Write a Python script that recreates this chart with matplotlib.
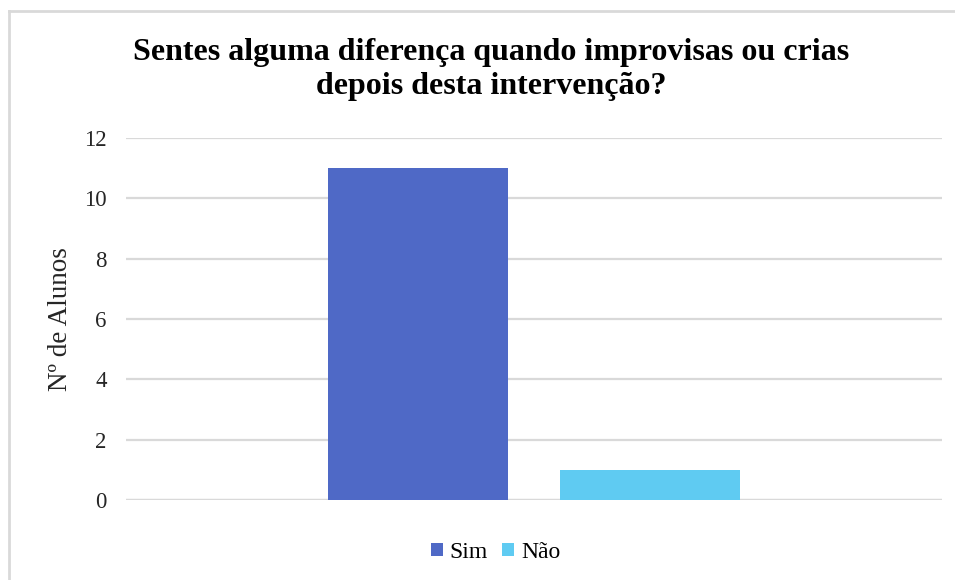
import matplotlib.pyplot as plt
from matplotlib.lines import Line2D

# data
categories = ["Sim", "Não"]
values = [11, 1]
colors = ["#4F69C6", "#5FCBF2"]
yticks = [0, 2, 4, 6, 8, 10, 12]

plt.rcParams['font.family'] = ['Liberation Serif', 'DejaVu Serif']

fig = plt.figure(figsize=(9.55, 5.8), dpi=100)
ax = fig.add_axes([0.1319, 0.1379, 0.8545, 0.6242])

# one bar per series
for i in range(len(categories)):
    ax.bar(i, values[i], width=0.78, color=colors[i], label=categories[i], zorder=3)

ax.set_xlim(-1.259, 2.259)
ax.set_ylim(0, 12)
ax.set_yticks(yticks)
ax.set_xticks([])
ax.tick_params(axis="y", length=0, labelsize=16.5, pad=14, colors="#262626")
ax.grid(axis="y", color="#d9d9d9", linewidth=1.6, zorder=0)
for s in ax.spines.values():
    s.set_visible(False)
ax.axhline(0, color="#d9d9d9", linewidth=1.6, zorder=2)

ax.set_ylabel("Nº de Alunos", fontsize=19.5, labelpad=8, color="#262626")

fig.text(0.514, 0.880, "Sentes alguma diferença quando improvisas ou crias\ndepois desta intervenção?",
         ha="center", va="center", fontsize=23, fontweight="bold", linespacing=1.2)

ax.legend(loc="center", bbox_to_anchor=(0.453, -0.145), ncol=2, frameon=False,
          fontsize=17, handlelength=0.5, handleheight=0.5, handletextpad=0.3,
          columnspacing=0.6)

# light border of the chart area (top and left visible)
fig.add_artist(Line2D([0.0095, 0.0095], [0, 0.981], transform=fig.transFigure,
                      color="#d9d9d9", linewidth=2))
fig.add_artist(Line2D([0.0095, 1], [0.981, 0.981], transform=fig.transFigure,
                      color="#d9d9d9", linewidth=2))

plt.savefig("out.png", dpi=100)
